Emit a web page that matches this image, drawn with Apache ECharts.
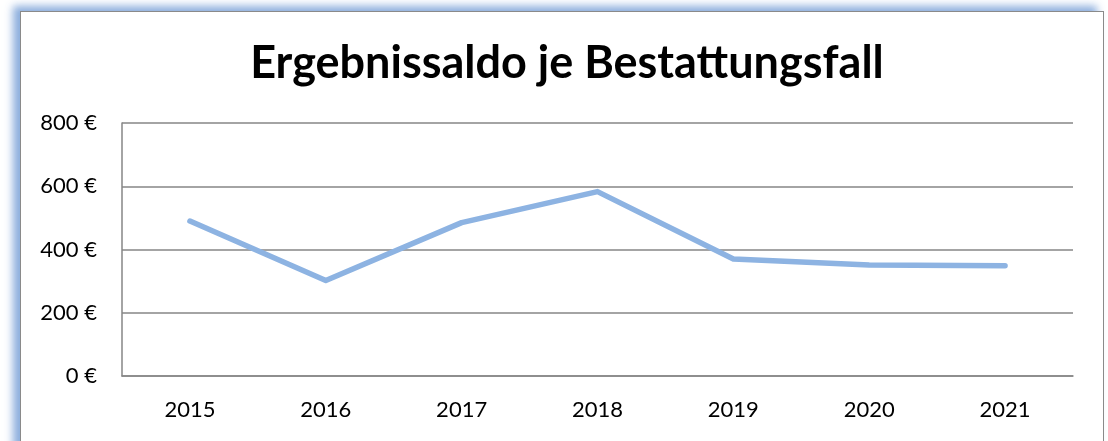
<!DOCTYPE html>
<html>
<head>
<meta charset="utf-8">
<script src="https://cdn.jsdelivr.net/npm/echarts@6/dist/echarts.min.js"></script>
<style>
  html, body { margin: 0; padding: 0; background: #ffffff; }
  #wrap { position: relative; width: 1108px; height: 441px; overflow: hidden; background: #fff; }
  #frame {
    position: absolute; left: 20px; top: 11px; width: 1082px; height: 460px;
    border: 1px solid #8a8a8a; background: #fff;
    box-shadow: -7px -5px 8px rgba(120, 160, 215, 0.85);
  }
  #chart { position: absolute; left: 0; top: 0; width: 1108px; height: 441px; }
</style>
</head>
<body>
<div id="wrap">
  <div id="frame"></div>
  <div id="chart"></div>
</div>
<script>
const years = ['2015', '2016', '2017', '2018', '2019', '2020', '2021'];
const saldo = [490, 302, 485, 583, 370, 351, 349];
const chartTitle = 'Ergebnissaldo je Bestattungsfall';

const chart = echarts.init(document.getElementById('chart'), null, { renderer: 'canvas' });
chart.setOption({
  animation: false,
  textStyle: { fontFamily: 'Lato' },
  title: {
    text: chartTitle,
    left: 562,
    textAlign: 'center',
    top: 36,
    textStyle: { fontFamily: 'Lato', fontWeight: 'bold', fontSize: 45, color: '#000' }
  },
  grid: { left: 122, right: 35, top: 123, bottom: 65 },
  xAxis: {
    type: 'category',
    data: years,
    boundaryGap: true,
    axisLine: { lineStyle: { color: '#868686', width: 1.5 } },
    axisTick: { show: false },
    axisLabel: { color: '#000', fontSize: 22, margin: 23 }
  },
  yAxis: {
    type: 'value',
    min: 0,
    max: 800,
    interval: 200,
    axisLine: { show: true, lineStyle: { color: '#868686', width: 1.5 } },
    axisTick: { show: false },
    splitLine: { lineStyle: { color: '#868686', width: 1.5 } },
    axisLabel: { color: '#000', fontSize: 22, margin: 25, formatter: '{value} €' }
  },
  series: [{
    type: 'line',
    data: saldo,
    symbol: 'none',
    lineStyle: { color: '#8db3e2', width: 5.5, cap: 'round', join: 'round' }
  }]
});
</script>
</body>
</html>
